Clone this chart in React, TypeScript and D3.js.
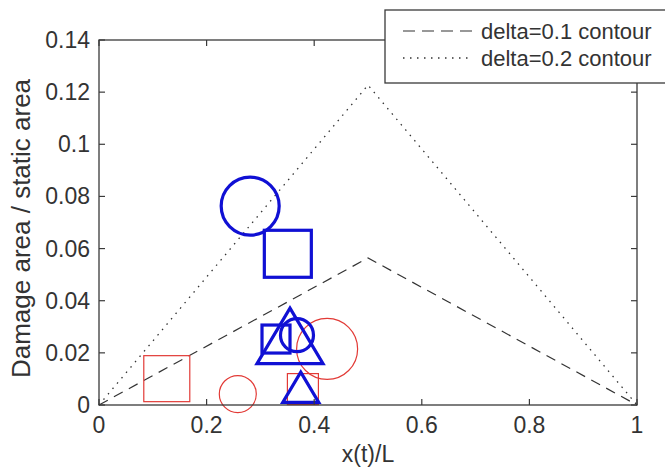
import React from "react";
import * as d3 from "d3";

const xTicks = [0, 0.2, 0.4, 0.6, 0.8, 1];
const yTicks = [0, 0.02, 0.04, 0.06, 0.08, 0.1, 0.12, 0.14];
const xTickLabels = ["0", "0.2", "0.4", "0.6", "0.8", "1"];
const yTickLabels = ["0", "0.02", "0.04", "0.06", "0.08", "0.1", "0.12", "0.14"];

const contour01: [number, number][] = [[0, 0], [0.5, 0.0564], [1, 0]];
const contour02: [number, number][] = [[0, 0], [0.5, 0.1227], [1, 0]];

type M = { shape: "circle" | "square" | "triangle"; x: number; y: number; s: number };

// red (thin) markers
const redMarkers: M[] = [
  { shape: "square", x: 0.126, y: 0.0101, s: 46 },
  { shape: "circle", x: 0.258, y: 0.0042, s: 37 },
  { shape: "square", x: 0.379, y: 0.0061, s: 31 },
  { shape: "circle", x: 0.424, y: 0.0215, s: 61 },
];
// blue (thick) markers
const blueMarkers: M[] = [
  { shape: "circle", x: 0.281, y: 0.0763, s: 58 },
  { shape: "square", x: 0.351, y: 0.058, s: 47 },
  { shape: "square", x: 0.329, y: 0.0253, s: 28 },
  { shape: "circle", x: 0.368, y: 0.0268, s: 33 },
  { shape: "triangle", x: 0.355, y: 0.0265, s: 66 },
  { shape: "triangle", x: 0.375, y: 0.0068, s: 36 },
];

const W = 665, H = 468;
const L = 99, R = 637, T = 40, B = 405;
const FONT = "'Liberation Sans', Arial, Helvetica, sans-serif";
const AX = "#3a3a3a";
const TXT = "#333";

export default function App() {
  const x = d3.scaleLinear().domain([0, 1]).range([L, R]);
  const y = d3.scaleLinear().domain([0, 0.14]).range([B, T]);
  const line = d3.line<[number, number]>().x(d => x(d[0])).y(d => y(d[1]));

  const drawMarker = (m: M, color: string, sw: number, key: string) => {
    const cx = x(m.x), cy = y(m.y);
    if (m.shape === "circle")
      return <circle key={key} cx={cx} cy={cy} r={m.s / 2} fill="none" stroke={color} strokeWidth={sw} />;
    if (m.shape === "square")
      return <rect key={key} x={cx - m.s / 2} y={cy - m.s / 2} width={m.s} height={m.s} fill="none" stroke={color} strokeWidth={sw} />;
    const hw = m.s * 0.5, hh = m.s * 0.42;
    const p = `M${cx},${cy - hh}L${cx + hw},${cy + hh}L${cx - hw},${cy + hh}Z`;
    return <path key={key} d={p} fill="none" stroke={color} strokeWidth={sw} strokeLinejoin="miter" />;
  };

  const tl = 6;
  return (
    <svg width={W} height={H} style={{ position: "absolute", left: 0, top: 0, background: "#fff" }} fontFamily={FONT}>
      <rect x={0} y={0} width={W} height={H} fill="#fff" />
      {/* contours */}
      <path d={line(contour01) || ""} fill="none" stroke="#333" strokeWidth={1.2} strokeDasharray="10,7" />
      <path d={line(contour02) || ""} fill="none" stroke="#333" strokeWidth={1.3} strokeDasharray="1.5,5.5" />
      {/* markers */}
      {redMarkers.map((m, i) => drawMarker(m, "#e23a36", 1.2, "r" + i))}
      {blueMarkers.map((m, i) => drawMarker(m, "#1010d4", 3.2, "b" + i))}
      {/* axes box */}
      <rect x={L} y={T} width={R - L} height={B - T} fill="none" stroke={AX} strokeWidth={1.3} />
      {xTicks.map((t, i) => (
        <g key={"xt" + i}>
          <line x1={x(t)} x2={x(t)} y1={B} y2={B - tl} stroke={AX} strokeWidth={1.2} />
          <line x1={x(t)} x2={x(t)} y1={T} y2={T + tl} stroke={AX} strokeWidth={1.2} />
          <text x={x(t)} y={433} textAnchor="middle" fontSize={23} fill={TXT}>{xTickLabels[i]}</text>
        </g>
      ))}
      {yTicks.map((t, i) => (
        <g key={"yt" + i}>
          <line x1={L} x2={L + tl} y1={y(t)} y2={y(t)} stroke={AX} strokeWidth={1.2} />
          <line x1={R} x2={R - tl} y1={y(t)} y2={y(t)} stroke={AX} strokeWidth={1.2} />
          <text x={90} y={y(t) + 8} textAnchor="end" fontSize={23} fill={TXT}>{yTickLabels[i]}</text>
        </g>
      ))}
      <text x={(L + R) / 2} y={462} textAnchor="middle" fontSize={23} fill={TXT}>x(t)/L</text>
      <text transform={`translate(30,${(T + B) / 2 + 6}) rotate(-90)`} textAnchor="middle" fontSize={26} fill={TXT}>Damage area / static area</text>
      {/* legend */}
      <rect x={385} y={10} width={320} height={73} fill="#fff" stroke={AX} strokeWidth={1.3} />
      <line x1={403} x2={472} y1={31} y2={31} stroke="#333" strokeWidth={1.2} strokeDasharray="12,7" />
      <line x1={403} x2={472} y1={58} y2={58} stroke="#333" strokeWidth={1.3} strokeDasharray="1.5,5.5" />
      <text x={481} y={39} fontSize={22} fill={TXT}>delta=0.1 contour</text>
      <text x={481} y={66} fontSize={22} fill={TXT}>delta=0.2 contour</text>
    </svg>
  );
}
